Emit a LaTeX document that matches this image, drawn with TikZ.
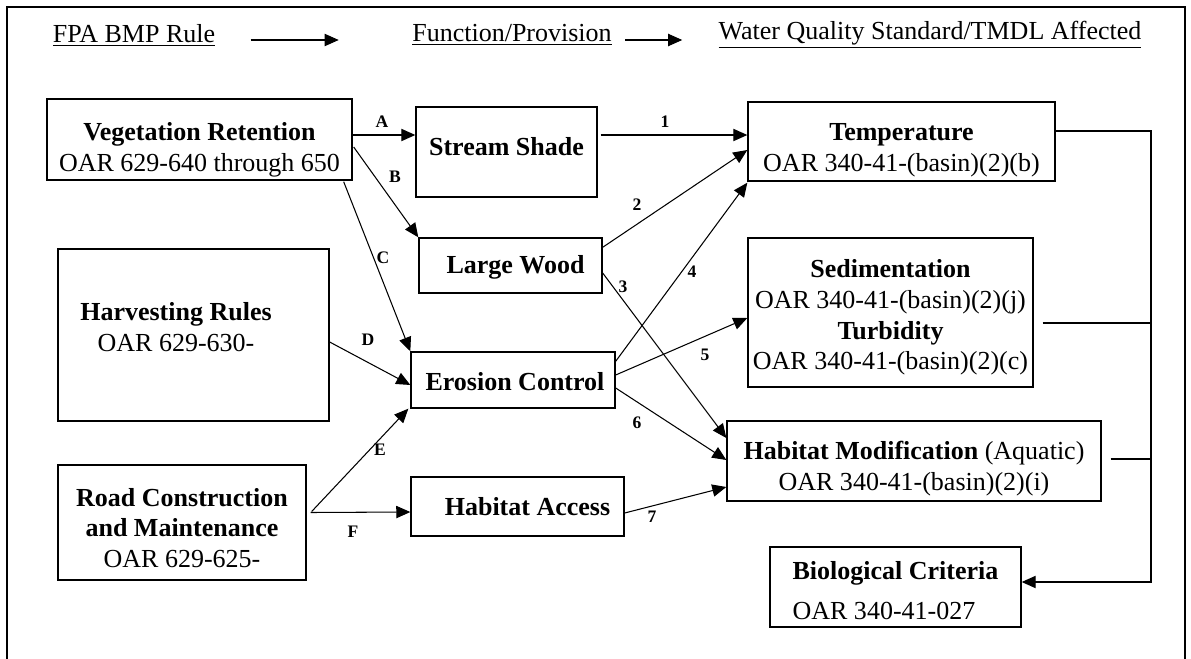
\documentclass[tikz,border=0pt]{standalone}
\usepackage{fontspec}
\setmainfont{Liberation Serif}
\usetikzlibrary{arrows.meta, calc}

\begin{document}
\begin{tikzpicture}[x=0.02cm, y=-0.02cm, line width=0.6pt,
  every node/.style={font=\fontsize{14.8}{17.5}\selectfont, inner sep=0pt},
  box/.style={draw, line width=0.8pt},
  txt/.style={align=center},
  lbl/.style={font=\fontsize{10}{12}\selectfont\bfseries},
  tip/.style={-{Triangle[length=8pt,width=7pt]}}]

\useasboundingbox (0,0) rectangle (1191,659);

% Frame (open at the bottom)
\draw[line width=0.7pt] (7,659) -- (7,7) -- (1185,7) -- (1185,659);

% --- Header row ---
\node (hrule) at (134,35) {\underline{FPA BMP Rule}};
\node (hfunc) at (512,35) {\underline{Function/Provision}};
\node (hwq)   at (930,35) {\underline{Water Quality Standard/TMDL Affected}};
\draw[tip] ($(hrule.east)+(35,5)$) -- ($(hrule.east)+(123,5)$);
\draw[tip] ($(hfunc.east)+(13,5)$) -- ($(hfunc.east)+(70,5)$);

% --- Left column: FPA BMP rules ---
\node[box, minimum width=6.10cm, minimum height=1.62cm] (veg) at (199.5,139.5) {};
\node[txt] (vegtxt) at ($(veg)+(0,10)$) {\textbf{Vegetation Retention}\\OAR 629-640 through 650};
\node[box, minimum width=5.42cm, minimum height=3.44cm] (harv) at (193.5,335) {};
\node[txt] (harvtxt) at (176,327) {\textbf{Harvesting Rules}\\OAR 629-630-};
\node[box, minimum width=4.96cm, minimum height=2.30cm] (road) at (182,522.5) {};
\node[txt] (roadtxt) at ($(road)+(0,5.5)$) {\textbf{Road Construction}\\\textbf{and Maintenance}\\OAR 629-625-};

% --- Middle column: functions ---
\node[box, minimum width=3.62cm, minimum height=1.80cm] (shade) at (506.5,152) {};
\node (shadetxt) at ($(shade)+(0,-5)$) {\textbf{Stream Shade}};
\node[box, minimum width=3.66cm, minimum height=1.10cm] (wood) at (510.5,265.5) {};
\node (woodtxt) at ($(wood)+(5,2)$) {\textbf{Large Wood}};
\node[box, minimum width=4.08cm, minimum height=1.12cm] (ero) at (513,380) {};
\node (erotxt) at ($(ero)+(2,2)$) {\textbf{Erosion Control}};
\node[box, minimum width=4.26cm, minimum height=1.18cm] (access) at (517.5,506.5) {};
\node (accesstxt) at ($(access)+(10,0)$) {\textbf{Habitat Access}};

% --- Right column: standards affected ---
\node[box, minimum width=6.14cm, minimum height=1.58cm] (temp) at (901.5,141.5) {};
\node[txt] (temptxt) at ($(temp)+(0,8.5)$) {\textbf{Temperature}\\OAR 340-41-(basin)(2)(b)};
\node[box, minimum width=5.70cm, minimum height=2.98cm] (sed) at (890.5,312.5) {};
\node[txt] (sedtxt) at ($(sed)+(0,5)$)
  {\textbf{Sedimentation}\\OAR 340-41-(basin)(2)(j)\\\textbf{Turbidity}\\OAR 340-41-(basin)(2)(c)};
\node[box, minimum width=7.48cm, minimum height=1.60cm] (habmod) at (914,461) {};
\node[txt] (habmodtxt) at ($(habmod)+(0,7.5)$)
  {\textbf{Habitat Modification} (Aquatic)\\OAR 340-41-(basin)(2)(i)};
\node[box, minimum width=5.02cm, minimum height=1.60cm] (bio) at (895.5,587) {};
\node[align=left] (biotxt) at ($(bio)+(0,3.5)$) {\textbf{Biological Criteria}\\[5pt]OAR 340-41-027};

% Rule -> function arrows
\draw[tip] ($(veg.east)+(0,-4.5)$) -- ($(shade.west)+(0,-17)$);
\draw[tip] ($(veg.east)+(1,7.5)$) -- (wood.north west);
\draw[tip] ($(veg.south east)+(-9,1)$) -- (ero.north west);
\draw[tip] ($(harv.east)+(0,7)$) -- ($(ero.west)+(0,5)$);
\draw[tip] ($(road.east)+(5,-11)$) -- ($(ero.south west)+(-2,0)$);
\draw[tip] ($(road.east)+(4,-10)$) -- ($(access.west)+(0,5.5)$);

\node[lbl] (la) at (382,122) {A};
\node[lbl] (lb) at (395,177) {B};
\node[lbl] (lc) at (383,258) {C};
\node[lbl] (ld) at (368,340) {D};
\node[lbl] (le) at (380,450) {E};
\node[lbl] (lf) at (353,532) {F};

% Function -> standard arrows
\draw[tip] ($(shade.east)+(3,-17)$) -- ($(temp.west)+(0,-6.5)$);
\draw[tip] ($(wood.north east)+(0,10)$) -- ($(temp.west)+(0,8.5)$);
\draw[tip] ($(wood.east)+(0,7.5)$) -- ($(habmod.west)+(0,-23)$);
\draw[tip] ($(ero.north east)+(0,10)$) -- ($(temp.south west)+(0,1)$);
\draw[tip] ($(ero.east)+(0,-5)$) -- ($(sed.west)+(0,5.5)$);
\draw[tip] ($(ero.east)+(0,8)$) -- ($(habmod.west)+(0,-1)$);
\draw[tip] ($(access.east)+(0,6.5)$) -- ($(habmod.west)+(0,26)$);

\node[lbl] (l1) at (665,122) {1};
\node[lbl] (l2) at (637,205) {2};
\node[lbl] (l3) at (623,287) {3};
\node[lbl] (l4) at (692,272) {4};
\node[lbl] (l5) at (705,355) {5};
\node[lbl] (l6) at (637,423) {6};
\node[lbl] (l7) at (652,517) {7};

% Feedback rail into biological criteria
\coordinate (rail) at (1151,582);
\coordinate (sedout) at ($(sed.east)+(9,10.5)$);
\coordinate (habout) at ($(habmod.east)+(9,-2)$);
\draw[tip] ($(temp.east)+(0,-10.5)$) -| (rail) -- ($(bio.east)+(0,-5)$);
\draw (sedout) -- (sedout -| rail);
\draw (habout) -- (habout -| rail);

\end{tikzpicture}
\end{document}
